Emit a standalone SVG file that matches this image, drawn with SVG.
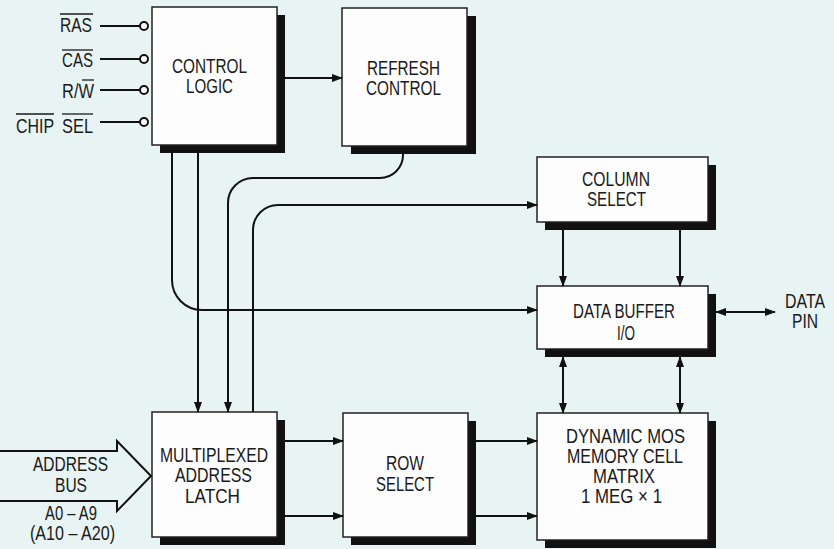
<svg xmlns="http://www.w3.org/2000/svg" width="834" height="549" viewBox="0 0 834 549">
<style>
.bg{fill:#e8f4f4}
.box{fill:#fdfdfd;stroke:#222;stroke-width:1.5}
.sh{fill:#111}
.t{font-family:"Liberation Sans",Arial,sans-serif;font-size:19.5px;fill:#1a1a1a;text-anchor:middle}
.ln{fill:none;stroke:#111;stroke-width:2}
.ovl{stroke:#1a1a1a;stroke-width:1.3}
.arr{marker-end:url(#ah)}
.dbl{marker-end:url(#ah);marker-start:url(#ahs)}
</style>
<defs>
<marker id="ah" markerUnits="userSpaceOnUse" markerWidth="11" markerHeight="8" refX="10" refY="4" orient="auto"><path d="M0,0 L11,4 L0,8 z" fill="#111"/></marker>
<marker id="ahs" markerUnits="userSpaceOnUse" markerWidth="11" markerHeight="8" refX="10" refY="4" orient="auto-start-reverse"><path d="M0,0 L11,4 L0,8 z" fill="#111"/></marker>
</defs>
<rect class="bg" x="0" y="0" width="834" height="549"/>

<g id="inputs">
<line class="ln" x1="100" y1="26" x2="140" y2="26"/>
<line class="ln" x1="100" y1="59" x2="140" y2="59"/>
<line class="ln" x1="100" y1="90" x2="140" y2="90"/>
<line class="ln" x1="100" y1="122" x2="140" y2="122"/>
<circle cx="144" cy="26" r="4" fill="#fff" stroke="#111" stroke-width="2"/>
<circle cx="144" cy="59" r="4" fill="#fff" stroke="#111" stroke-width="2"/>
<circle cx="144" cy="90" r="4" fill="#fff" stroke="#111" stroke-width="2"/>
<circle cx="144" cy="122" r="4" fill="#fff" stroke="#111" stroke-width="2"/>
<text class="t" x="76" y="32" textLength="32" lengthAdjust="spacingAndGlyphs">RAS</text>
<line class="ovl" x1="60" y1="14" x2="93" y2="14"/>
<text class="t" x="77.5" y="67" textLength="31" lengthAdjust="spacingAndGlyphs">CAS</text>
<line class="ovl" x1="62" y1="50" x2="93" y2="50"/>
<text class="t" x="78" y="98" textLength="32" lengthAdjust="spacingAndGlyphs">R/W</text>
<line class="ovl" x1="82" y1="80" x2="94" y2="80"/>
<text class="t" x="35" y="133" textLength="38" lengthAdjust="spacingAndGlyphs">CHIP</text>
<line class="ovl" x1="16" y1="114" x2="54" y2="114"/>
<text class="t" x="77.5" y="133" textLength="31" lengthAdjust="spacingAndGlyphs">SEL</text>
<line class="ovl" x1="62" y1="114" x2="93" y2="114"/>
</g>

<g id="control-logic">
<rect class="sh" x="160" y="15" width="125" height="138"/>
<rect class="box" x="152" y="7" width="125" height="138"/>
<text class="t" x="209.5" y="73" textLength="75" lengthAdjust="spacingAndGlyphs">CONTROL</text>
<text class="t" x="209.5" y="93" textLength="47" lengthAdjust="spacingAndGlyphs">LOGIC</text>
</g>

<g id="refresh-control">
<rect class="sh" x="351" y="16" width="125" height="138"/>
<rect class="box" x="342" y="8" width="125" height="138"/>
<text class="t" x="403.5" y="75" textLength="73" lengthAdjust="spacingAndGlyphs">REFRESH</text>
<text class="t" x="403.5" y="95" textLength="75" lengthAdjust="spacingAndGlyphs">CONTROL</text>
</g>

<g id="column-select">
<rect class="sh" x="545" y="165" width="171" height="65"/>
<rect class="box" x="537" y="157" width="171" height="65"/>
<text class="t" x="616" y="186" textLength="68" lengthAdjust="spacingAndGlyphs">COLUMN</text>
<text class="t" x="616.5" y="206" textLength="59" lengthAdjust="spacingAndGlyphs">SELECT</text>
</g>

<g id="data-buffer">
<rect class="sh" x="545" y="294" width="171" height="63"/>
<rect class="box" x="537" y="286" width="171" height="63"/>
<text class="t" x="624" y="318" textLength="102" lengthAdjust="spacingAndGlyphs">DATA BUFFER</text>
<text class="t" x="626" y="340" textLength="18" lengthAdjust="spacingAndGlyphs">I/O</text>
</g>

<g id="data-pin">
<text class="t" x="805" y="308" textLength="40" lengthAdjust="spacingAndGlyphs">DATA</text>
<text class="t" x="805" y="328" textLength="26" lengthAdjust="spacingAndGlyphs">PIN</text>
</g>

<g id="memory-matrix">
<rect class="sh" x="545" y="421" width="171" height="127"/>
<rect class="box" x="537" y="413" width="171" height="127"/>
<text class="t" x="625.5" y="443" textLength="119" lengthAdjust="spacingAndGlyphs">DYNAMIC MOS</text>
<text class="t" x="625" y="463" textLength="116" lengthAdjust="spacingAndGlyphs">MEMORY CELL</text>
<text class="t" x="624" y="483" textLength="62" lengthAdjust="spacingAndGlyphs">MATRIX</text>
<text class="t" x="621.5" y="503" textLength="81" lengthAdjust="spacingAndGlyphs">1 MEG × 1</text>
</g>

<g id="address-latch">
<rect class="sh" x="160" y="420" width="125" height="125"/>
<rect class="box" x="152" y="412" width="125" height="125"/>
<text class="t" x="214" y="462" textLength="108" lengthAdjust="spacingAndGlyphs">MULTIPLEXED</text>
<text class="t" x="213.5" y="482" textLength="77" lengthAdjust="spacingAndGlyphs">ADDRESS</text>
<text class="t" x="212.5" y="503" textLength="55" lengthAdjust="spacingAndGlyphs">LATCH</text>
</g>

<g id="row-select">
<rect class="sh" x="351" y="421" width="125" height="124"/>
<rect class="box" x="343" y="413" width="125" height="124"/>
<text class="t" x="405" y="470" textLength="38" lengthAdjust="spacingAndGlyphs">ROW</text>
<text class="t" x="405" y="491" textLength="58" lengthAdjust="spacingAndGlyphs">SELECT</text>
</g>

<g id="address-bus">
<polyline points="0,451 117,451 117,441 151,476 117,511 117,501 0,501" fill="none" stroke="#111" stroke-width="2" stroke-linejoin="miter"/>
<text class="t" x="70.5" y="471" textLength="75" lengthAdjust="spacingAndGlyphs">ADDRESS</text>
<text class="t" x="71" y="492" textLength="32" lengthAdjust="spacingAndGlyphs">BUS</text>
<text class="t" x="71" y="520" textLength="52" lengthAdjust="spacingAndGlyphs">A0 – A9</text>
<text class="t" x="72.5" y="540" textLength="85" lengthAdjust="spacingAndGlyphs">(A10 – A20)</text>
</g>

<g id="connectors">
<path class="ln arr" d="M285,78 H342"/>
<path class="ln arr" d="M172,153 V280 A30,30 0 0 0 202,310 H537"/>
<path class="ln arr" d="M198,153 V412"/>
<path class="ln arr" d="M403,154 V155 A23,23 0 0 1 380,178 H253 A25,25 0 0 0 228,203 V412"/>
<path class="ln arr" d="M253,412 V230 A25,25 0 0 1 278,205 H537"/>
<path class="ln arr" d="M563,230 V286"/>
<path class="ln arr" d="M680,230 V286"/>
<path class="ln dbl" d="M563,357 V413"/>
<path class="ln dbl" d="M680,357 V413"/>
<path class="ln dbl" d="M716,312 H775"/>
<path class="ln arr" d="M285,441 H343"/>
<path class="ln arr" d="M285,516 H343"/>
<path class="ln arr" d="M476,441 H537"/>
<path class="ln arr" d="M476,516 H537"/>
</g>
</svg>
